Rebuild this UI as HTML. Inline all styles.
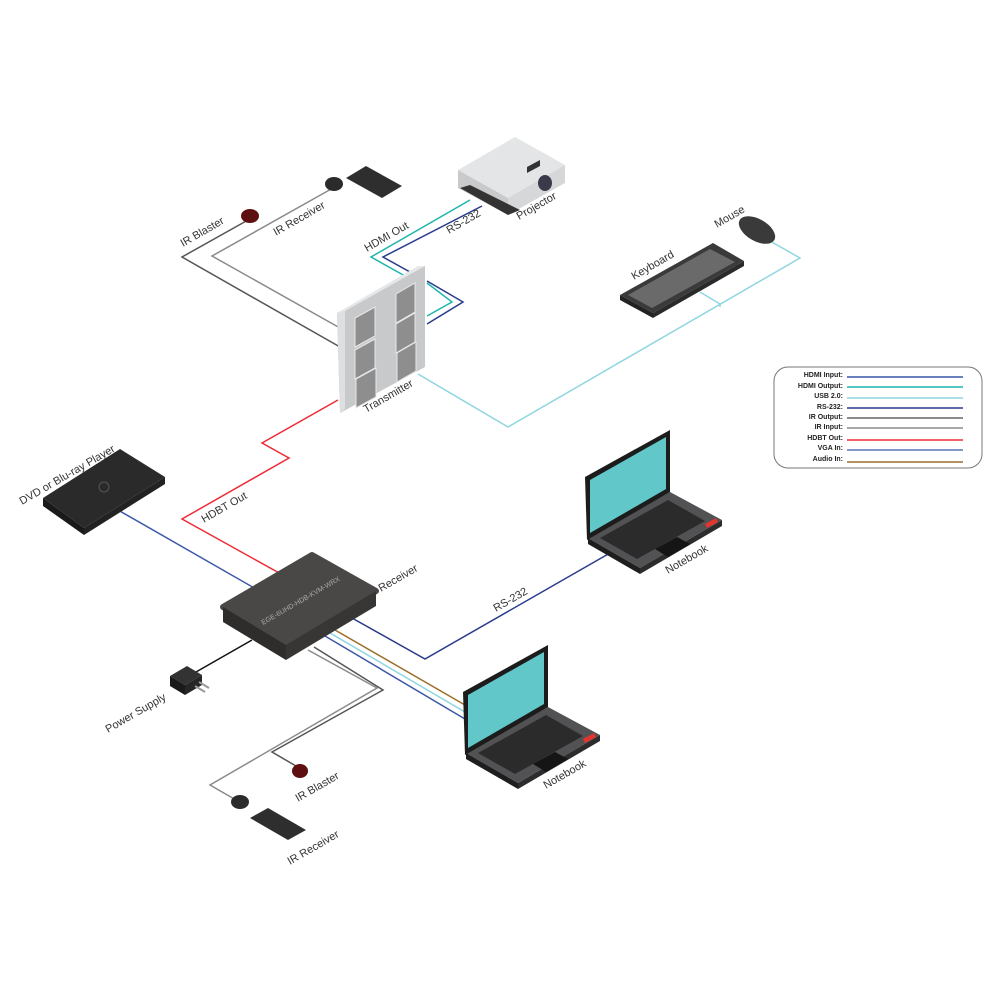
<!DOCTYPE html>
<html><head><meta charset="utf-8"><style>
html,body{margin:0;padding:0;background:#fff;}
svg{display:block;font-family:"Liberation Sans",sans-serif;}
.lb{font-size:11px;fill:#333;}
</style></head><body>
<svg width="1000" height="1000" viewBox="0 0 1000 1000" xmlns="http://www.w3.org/2000/svg">
<g fill="none" stroke-width="1.5">
<polyline points="248,220 182,257 340,347" stroke="#555"/>
<polyline points="333,188 212,256 340,328" stroke="#8a8a8a"/>
<polyline points="470,200 371,257 405,276" stroke="#1fb5ad"/>
<polyline points="427,283 452,302 427,316" stroke="#1fb5ad"/>
<polyline points="482,206 383,257 410,272" stroke="#283a8c"/>
<polyline points="427,281 463,302 427,324" stroke="#283a8c"/>
<polyline points="418,374 508,427 800,258 770,241" stroke="#8fd6e0"/>
<polyline points="700,292 720,304 720,307" stroke="#8fd6e0"/>
<polyline points="338,400 262,443 289,458 182,519 281,574" stroke="#ee2b36"/>
<polyline points="118,510 256,589" stroke="#3c57a8"/>
<polyline points="352,618 425,659 610,553" stroke="#283a8c"/>
<polyline points="335,630 465,705" stroke="#9c6e2a"/>
<polyline points="330,633 465,712" stroke="#8fd6e0"/>
<polyline points="325,636 465,719" stroke="#3c57a8"/>
<polyline points="252,640 196,672" stroke="#111"/>
<polyline points="308,650 377,688 210,785 236,800" stroke="#8a8a8a"/>
<polyline points="314,647 383,690 272,752 296,766" stroke="#555"/>
</g>

<polygon points="337,313 425,266 425,367 340,413" fill="#c8c9cb"/>
<polygon points="337,313 345,309 345,409 340,413" fill="#dedfe0"/>
<polygon points="337,313 418,266 425,266 345,311" fill="#e6e7e8"/>
<g fill="#8e8e8e" stroke="#e8e8e8" stroke-width="1">
<polygon points="355,318 375,307 375,336 355,347"/>
<polygon points="355,350 375,339 375,368 355,379"/>
<polygon points="356,379 376,368 376,397 356,408"/>
<polygon points="396,294 415,283 415,312 396,323"/>
<polygon points="396,324 415,313 415,342 396,353"/>
<polygon points="397,353 416,342 416,371 397,382"/>
</g>

<polygon points="458,170 515,137 565,165 508,198" fill="#e4e5e6"/>
<polygon points="458,170 508,198 508,215 458,188" fill="#c9cacb"/>
<polygon points="508,198 565,165 565,183 508,215" fill="#d6d7d8"/>
<polygon points="460,188 508,215 520,210 470,185" fill="#333"/>
<ellipse cx="545" cy="183" rx="7" ry="8" fill="#3a3a4a"/>
<polygon points="527,167 540,160 540,166 527,173" fill="#333"/>

<ellipse cx="250" cy="216" rx="9" ry="7" fill="#5e1010"/>
<ellipse cx="334" cy="184" rx="9" ry="7" fill="#2b2b2b"/>
<polygon points="346,178 366,166 402,186 382,198" fill="#2e2e2e"/>

<polygon points="620,295 713,243 744,261 653,313" fill="#3a3a3a"/>
<polygon points="620,295 653,313 653,318 620,300" fill="#222"/>
<polygon points="653,313 744,261 744,266 653,318" fill="#2a2a2a"/>
<polygon points="628,295 710,249 735,262 652,308" fill="#6a6a6a"/>
<ellipse cx="757" cy="230" rx="20" ry="11" transform="rotate(30 757 230)" fill="#3a3a3a"/>

<polygon points="43,498 120,449 165,477 84,528" fill="#2a2a2a"/>
<polygon points="43,498 84,528 84,535 43,506" fill="#1a1a1a"/>
<polygon points="84,528 165,477 165,484 84,535" fill="#222"/>
<circle cx="104" cy="487" r="5" fill="none" stroke="#555"/>

<polygon points="223,607 312,555 376,591 286,645" fill="#4a4846" stroke="#4a4846" stroke-width="6" stroke-linejoin="round"/>
<polygon points="223,607 286,645 286,660 223,622" fill="#2e2d2c"/>
<polygon points="286,645 376,591 376,606 286,660" fill="#383634"/>
<text transform="translate(263,625) rotate(-30)" style="font-size:7px;fill:#aaa">EGE-6UHD-HDB-KVM-WRX</text>

<polygon points="170,676 187,666 202,675 185,685" fill="#333"/>
<polygon points="170,676 185,685 185,695 170,686" fill="#1a1a1a"/>
<polygon points="185,685 202,675 202,685 185,695" fill="#262626"/>
<line x1="195" y1="686" x2="205" y2="692" stroke="#999" stroke-width="2"/>
<line x1="199" y1="682" x2="209" y2="688" stroke="#999" stroke-width="2"/>

<ellipse cx="300" cy="771" rx="8" ry="7" fill="#5e1010"/>
<ellipse cx="240" cy="802" rx="9" ry="7" fill="#2b2b2b"/>
<polygon points="250,818 268,808 306,830 288,840" fill="#2e2e2e"/>

<g id="nb">
<polygon points="588,538 670,492 722,520 640,568" fill="#525254"/>
<polygon points="588,538 640,568 640,574 588,544" fill="#1e1e1e"/>
<polygon points="640,568 722,520 722,526 640,574" fill="#2c2c2c"/>
<polygon points="600,538 668,500 705,521 637,559" fill="#222" opacity="0.8"/>
<polygon points="655,549 677,537 690,544 668,557" fill="#151515"/>
<polygon points="705,524 716,518 718,522 707,528" fill="#e3342f"/>
<polygon points="585,477 670,430 670,492 587,540" fill="#1c1c1c"/>
<polygon points="590,480 666,437 666,489 590,533" fill="#62c7c9"/>
</g>
<use href="#nb" transform="translate(-122,215)"/>

<g class="lb">
<text transform="translate(183,247) rotate(-30)">IR Blaster</text>
<text transform="translate(276,236) rotate(-30)">IR Receiver</text>
<text transform="translate(367,252) rotate(-30)">HDMI Out</text>
<text transform="translate(449,234) rotate(-30)">RS-232</text>
<text transform="translate(519,220) rotate(-30)">Projector</text>
<text transform="translate(634,280) rotate(-30)">Keyboard</text>
<text transform="translate(717,228) rotate(-30)">Mouse</text>
<text transform="translate(366,413) rotate(-30)">Transmitter</text>
<text transform="translate(22,505) rotate(-30)">DVD or Blu-ray Player</text>
<text transform="translate(204,523) rotate(-30)">HDBT Out</text>
<text transform="translate(381,592) rotate(-30)">Receiver</text>
<text transform="translate(496,612) rotate(-30)">RS-232</text>
<text transform="translate(668,574) rotate(-30)">Notebook</text>
<text transform="translate(546,789) rotate(-30)">Notebook</text>
<text transform="translate(108,733) rotate(-30)">Power Supply</text>
<text transform="translate(298,802) rotate(-30)">IR Blaster</text>
<text transform="translate(290,865) rotate(-30)">IR Receiver</text>
</g>

<rect x="774" y="367" width="208" height="101" rx="14" fill="#fff" stroke="#777" stroke-width="1"/>
<g style="font-size:7px;font-weight:bold;fill:#222" text-anchor="end">
<text x="843" y="377">HDMI Input:</text>
<text x="843" y="388">HDMI Output:</text>
<text x="843" y="398">USB 2.0:</text>
<text x="843" y="409">RS-232:</text>
<text x="843" y="419">IR Output:</text>
<text x="843" y="429">IR Input:</text>
<text x="843" y="440">HDBT Out:</text>
<text x="843" y="450">VGA In:</text>
<text x="843" y="461">Audio In:</text>
</g>
<g stroke-width="1.5">
<line x1="847" y1="377" x2="963" y2="377" stroke="#3c57a8"/>
<line x1="847" y1="387" x2="963" y2="387" stroke="#1fb5ad"/>
<line x1="847" y1="398" x2="963" y2="398" stroke="#8fd6e0"/>
<line x1="847" y1="408" x2="963" y2="408" stroke="#283a8c"/>
<line x1="847" y1="418" x2="963" y2="418" stroke="#666"/>
<line x1="847" y1="428" x2="963" y2="428" stroke="#8a8a8a"/>
<line x1="847" y1="440" x2="963" y2="440" stroke="#ee2b36"/>
<line x1="847" y1="450" x2="963" y2="450" stroke="#5a74b8"/>
<line x1="847" y1="462" x2="963" y2="462" stroke="#9c6e2a"/>
</g>
</svg>
</body></html>
